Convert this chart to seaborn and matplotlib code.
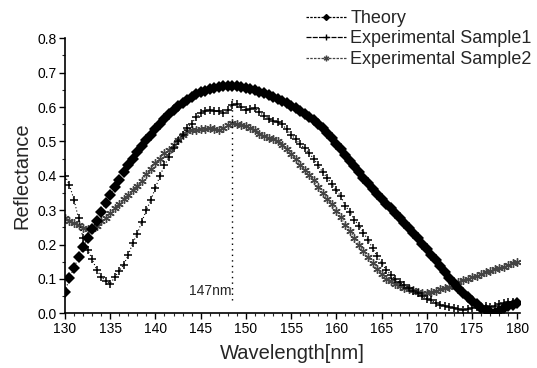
import numpy as np
import pandas as pd
import matplotlib
matplotlib.use("Agg")
import matplotlib.pyplot as plt
import seaborn as sns
from matplotlib.ticker import MultipleLocator
from matplotlib.lines import Line2D

sns.set_theme(style="ticks")
plt.rcParams['font.family'] = ['Liberation Sans', 'DejaVu Sans']

wavelength = [130.0 + 0.5 * i for i in range(101)]

theory = [0.063, 0.102, 0.133, 0.163, 0.193, 0.22, 0.246, 0.269, 0.294, 0.32,
          0.344, 0.366, 0.387, 0.41, 0.43, 0.45, 0.468, 0.486, 0.503, 0.52,
          0.537, 0.552, 0.566, 0.579, 0.591, 0.602, 0.612, 0.621, 0.629, 0.637,
          0.643, 0.648, 0.652, 0.656, 0.659, 0.66, 0.661, 0.661, 0.66, 0.658,
          0.656, 0.653, 0.649, 0.645, 0.64, 0.635, 0.629, 0.623, 0.617, 0.611,
          0.604, 0.597, 0.589, 0.58, 0.571, 0.561, 0.55, 0.538, 0.524, 0.509,
          0.493, 0.477, 0.46, 0.444, 0.428, 0.411, 0.395, 0.379, 0.363, 0.348,
          0.333, 0.319, 0.305, 0.291, 0.277, 0.262, 0.248, 0.233, 0.218, 0.202,
          0.187, 0.171, 0.154, 0.137, 0.12, 0.103, 0.087, 0.073, 0.06, 0.048,
          0.037, 0.026, 0.016, 0.009, 0.003, 0.0, 0.008, 0.015, 0.02, 0.025,
          0.029]

sample1 = [0.40, 0.373, 0.33, 0.276, 0.218, 0.185, 0.158, 0.127, 0.107, 0.094,
           0.086, 0.105, 0.124, 0.142, 0.17, 0.205, 0.232, 0.267, 0.30, 0.33,
           0.365, 0.40, 0.43, 0.455, 0.48, 0.50, 0.52, 0.54, 0.552, 0.57,
           0.582, 0.588, 0.59, 0.588, 0.588, 0.584, 0.59, 0.606, 0.61, 0.60,
           0.59, 0.594, 0.597, 0.585, 0.575, 0.566, 0.56, 0.556, 0.55, 0.535,
           0.52, 0.506, 0.492, 0.48, 0.465, 0.45, 0.43, 0.41, 0.394, 0.375,
           0.358, 0.34, 0.312, 0.295, 0.272, 0.255, 0.235, 0.213, 0.19, 0.167,
           0.146, 0.127, 0.112, 0.10, 0.09, 0.083, 0.074, 0.065, 0.058, 0.05,
           0.043, 0.038, 0.03, 0.025, 0.022, 0.019, 0.016, 0.012, 0.01, 0.012,
           0.015, 0.017, 0.019, 0.02, 0.019, 0.022, 0.027, 0.03, 0.032, 0.033,
           0.034]

sample2 = [0.276, 0.27, 0.262, 0.258, 0.247, 0.245, 0.246, 0.255, 0.268, 0.278,
           0.293, 0.305, 0.318, 0.332, 0.343, 0.358, 0.37, 0.385, 0.405, 0.42,
           0.438, 0.45, 0.465, 0.475, 0.49, 0.505, 0.519, 0.53, 0.534, 0.532,
           0.535, 0.537, 0.538, 0.535, 0.533, 0.54, 0.547, 0.553, 0.552, 0.548,
           0.545, 0.54, 0.533, 0.522, 0.516, 0.511, 0.507, 0.50, 0.49, 0.478,
           0.462, 0.448, 0.432, 0.417, 0.402, 0.388, 0.366, 0.35, 0.333, 0.318,
           0.297, 0.279, 0.257, 0.24, 0.22, 0.20, 0.18, 0.163, 0.146, 0.13,
           0.113, 0.10, 0.093, 0.086, 0.08, 0.075, 0.07, 0.068, 0.063, 0.058,
           0.058, 0.062, 0.065, 0.07, 0.074, 0.078, 0.082, 0.09, 0.096, 0.101,
           0.106, 0.11, 0.115, 0.12, 0.124, 0.128, 0.131, 0.135, 0.14, 0.145,
           0.15]

series_names = ["Theory", "Experimental Sample1", "Experimental Sample2"]
peak_label = "147nm"
peak_x = 148.5
xticks = [130, 135, 140, 145, 150, 155, 160, 165, 170, 175, 180]
yticks = [0.0, 0.1, 0.2, 0.3, 0.4, 0.5, 0.6, 0.7, 0.8]

fig = plt.figure(figsize=(5.37, 3.68), dpi=100)
ax = fig.add_axes([0.121, 0.1486, 0.8473, 0.7473])

asterisk = (6, 2, 0)

sns.lineplot(x=wavelength, y=sample2, ax=ax, color="#555555", linestyle=(0, (1, 2)),
             lw=0.8, marker=asterisk, markersize=6, markeredgewidth=1.0,
             markeredgecolor="#444444")
sns.lineplot(x=wavelength, y=sample1, ax=ax, color="black", linestyle=(0, (1, 2)),
             lw=0.8, marker="+", markersize=6, markeredgewidth=1.1,
             markeredgecolor="black")
sns.lineplot(x=wavelength, y=theory, ax=ax, color="black", linestyle=(0, (1, 2)),
             lw=0.8, marker="D", markersize=6.5, markeredgewidth=0)

ax.plot([peak_x, peak_x], [0.04, 0.625], color="black", linestyle=(0, (1, 3)), lw=1.0)
ax.text(peak_x - 0.1, 0.045, peak_label, ha="right", va="bottom", fontsize=10)

ax.set_xlim(130, 180.3)
ax.set_ylim(0, 0.8)
ax.set_xticks(xticks)
ax.set_yticks(yticks)
ax.set_yticklabels([f"{v:.1f}" for v in yticks])
ax.xaxis.set_minor_locator(MultipleLocator(1))
ax.yaxis.set_minor_locator(MultipleLocator(0.05))
ax.tick_params(axis="both", which="major", direction="out", length=4, width=1,
               labelsize=10, colors="black", pad=2)
ax.tick_params(axis="both", which="minor", direction="out", length=2, width=0.8)
for side in ["top", "right"]:
    ax.spines[side].set_visible(False)
for side in ["left", "bottom"]:
    ax.spines[side].set_linewidth(1.2)
    ax.spines[side].set_color("black")

ax.set_xlabel("Wavelength[nm]", fontsize=14.5, labelpad=6)
ax.set_ylabel("Reflectance", fontsize=14.5, labelpad=4)

handles = [
    Line2D([], [], color="black", linestyle=(0, (2, 1)), lw=0.9, marker="D", markersize=3),
    Line2D([], [], color="black", linestyle=(0, (4, 1)), lw=0.9, marker="+", markersize=4),
    Line2D([], [], color="#444444", linestyle=(0, (2, 1)), lw=0.9, marker=asterisk, markersize=4),
]
fig.legend(handles, series_names, loc="upper left", bbox_to_anchor=(0.560, 0.988),
           frameon=False, fontsize=13, handlelength=2.2, handletextpad=0.25,
           labelspacing=0.2, borderaxespad=0, borderpad=0.3)

fig.savefig("out.png", dpi=100)
